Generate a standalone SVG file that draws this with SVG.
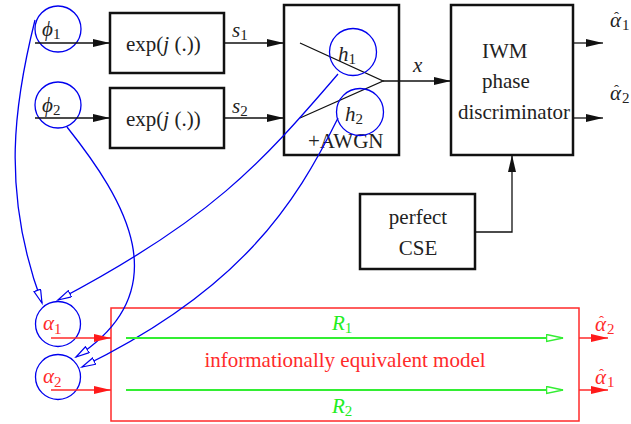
<svg xmlns="http://www.w3.org/2000/svg" width="631" height="424" viewBox="0 0 631 424" font-family="'Liberation Serif', 'DejaVu Serif', serif">
<defs>
<style>
text{font-family:'Liberation Serif','DejaVu Serif',serif;font-size:21px;fill:#222}
.it{font-style:italic}
.sub{font-size:15px}
.hat{font-size:15px;font-style:normal}
.box{fill:#fff;stroke:#111;stroke-width:2.5}
.wire{fill:none;stroke:#111;stroke-width:1.3}
.blue{fill:none;stroke:#0000ee;stroke-width:1.3}
.red{fill:none;stroke:#ff2a2a;stroke-width:1.5}
.green{fill:none;stroke:#33ee33;stroke-width:2}
.rt{fill:#ff2a2a}
.gt{fill:#22ee22}
</style>
<marker id="ab" markerUnits="userSpaceOnUse" markerWidth="18" markerHeight="10" refX="17" refY="4" orient="auto"><path d="M0,0 L17,4 L0,8 Z" fill="#111"/></marker>
<marker id="ar" markerUnits="userSpaceOnUse" markerWidth="18" markerHeight="10" refX="17" refY="4" orient="auto"><path d="M0,0 L17,4 L0,8 Z" fill="#ff1a1a"/></marker>
<marker id="ag" markerUnits="userSpaceOnUse" markerWidth="20" markerHeight="10" refX="17" refY="4" orient="auto"><path d="M0.5,0.5 L17,4 L0.5,7.5 Z" fill="#fff" stroke="#33ee33" stroke-width="1.5"/></marker>
<marker id="abl" markerUnits="userSpaceOnUse" markerWidth="16" markerHeight="10" refX="14" refY="4" orient="auto"><path d="M0.5,0.5 L14,4 L0.5,7.5 Z" fill="#fff" stroke="#0000ee" stroke-width="1.2"/></marker>
</defs>

<g id="box-exp1"><rect class="box" x="110" y="13" width="114" height="60"/><text x="126" y="51">exp(<tspan class="it">j</tspan> (.))</text></g>
<g id="box-exp2"><rect class="box" x="110" y="88" width="114" height="60"/><text x="126" y="126">exp(<tspan class="it">j</tspan> (.))</text></g>
<g id="box-awgn"><rect class="box" x="284" y="5" width="115" height="150"/><polyline class="wire" points="300,43 383,81 300,118"/><text x="308" y="148">+AWGN</text></g>
<g id="box-iwm"><rect class="box" x="451" y="5" width="122" height="150"/><text x="482" y="58">IWM</text><text x="482" y="88">phase</text><text x="458" y="119">discriminator</text></g>
<g id="box-cse"><rect class="box" x="360" y="194" width="115" height="75"/><text x="418" y="224" text-anchor="middle">perfect</text><text x="418" y="255" text-anchor="middle">CSE</text></g>
<g id="box-model"><rect class="red" x="111" y="308" width="468" height="113"/><text class="rt" x="345" y="367" text-anchor="middle">informationally equivalent model</text></g>

<g id="node-phi1"><circle class="blue" cx="58" cy="29" r="23"/><text x="42" y="36"><tspan class="it">ϕ</tspan><tspan class="sub" dy="3">1</tspan></text></g>
<g id="node-phi2"><circle class="blue" cx="58" cy="105" r="23"/><text x="42" y="112"><tspan class="it">ϕ</tspan><tspan class="sub" dy="3">2</tspan></text></g>
<g id="node-h1"><circle class="blue" cx="353" cy="52" r="23.5"/><text x="338" y="61"><tspan class="it">h</tspan><tspan class="sub" dy="3">1</tspan></text></g>
<g id="node-h2"><circle class="blue" cx="360" cy="112" r="23.5"/><text x="345" y="121"><tspan class="it">h</tspan><tspan class="sub" dy="3">2</tspan></text></g>
<g id="node-alpha1"><circle class="blue" cx="58" cy="324" r="22.5"/><text class="rt" x="43" y="330"><tspan class="it">α</tspan><tspan class="sub" dy="4">1</tspan></text></g>
<g id="node-alpha2"><circle class="blue" cx="58" cy="377" r="22.5"/><text class="rt" x="43" y="383"><tspan class="it">α</tspan><tspan class="sub" dy="4">2</tspan></text></g>

<g id="connectors">
<line class="wire" x1="35" y1="43" x2="110" y2="43" marker-end="url(#ab)"/>
<line class="wire" x1="35" y1="118" x2="110" y2="118" marker-end="url(#ab)"/>
<line class="wire" x1="224" y1="43" x2="284" y2="43" marker-end="url(#ab)"/>
<line class="wire" x1="224" y1="118" x2="284" y2="118" marker-end="url(#ab)"/>
<line class="wire" x1="383" y1="81" x2="451" y2="81" marker-end="url(#ab)"/>
<line class="wire" x1="573" y1="43" x2="603" y2="43" marker-end="url(#ab)"/>
<line class="wire" x1="573" y1="118" x2="603" y2="118" marker-end="url(#ab)"/>
<polyline class="wire" points="475,232 512,232 512,155" marker-end="url(#ab)"/>
<text class="it" x="232" y="37">s<tspan class="sub" dy="3" font-style="normal">1</tspan></text>
<text class="it" x="232" y="113">s<tspan class="sub" dy="3" font-style="normal">2</tspan></text>
<text class="it" x="413" y="72">x</text>
<text x="610" y="27"><tspan class="it">α</tspan><tspan class="hat" dx="-7" dy="-5">ˆ</tspan><tspan class="sub" dx="3" dy="8">1</tspan></text>
<text x="610" y="100"><tspan class="it">α</tspan><tspan class="hat" dx="-7" dy="-5">ˆ</tspan><tspan class="sub" dx="3" dy="8">2</tspan></text>

<path class="blue" d="M35,20 C15,100 0,190 42,303" marker-end="url(#abl)"/>
<path class="blue" d="M67,127 C125,200 180,290 76,357" marker-end="url(#abl)"/>
<path class="blue" d="M338,74 C260,165 210,220 58,300" marker-end="url(#abl)"/>
<path class="blue" d="M338,118 C295,205 240,290 82,367" marker-end="url(#abl)"/>

<line class="red" x1="51" y1="338" x2="111" y2="338" marker-end="url(#ar)"/>
<line class="red" x1="51" y1="390" x2="111" y2="390" marker-end="url(#ar)"/>
<line class="red" x1="579" y1="338" x2="608" y2="338" marker-end="url(#ar)"/>
<line class="red" x1="579" y1="390" x2="608" y2="390" marker-end="url(#ar)"/>
<line class="green" x1="126" y1="338" x2="563" y2="338" marker-end="url(#ag)"/>
<line class="green" x1="126" y1="390" x2="563" y2="390" marker-end="url(#ag)"/>
<text class="gt" x="332" y="330"><tspan class="it">R</tspan><tspan class="sub" dy="3">1</tspan></text>
<text class="gt" x="332" y="413"><tspan class="it">R</tspan><tspan class="sub" dy="3">2</tspan></text>
<text class="rt" x="595" y="331"><tspan class="it">α</tspan><tspan class="hat" dx="-7" dy="-5">ˆ</tspan><tspan class="sub" dx="3" dy="8">2</tspan></text>
<text class="rt" x="595" y="384"><tspan class="it">α</tspan><tspan class="hat" dx="-7" dy="-5">ˆ</tspan><tspan class="sub" dx="3" dy="8">1</tspan></text>
</g>
</svg>
